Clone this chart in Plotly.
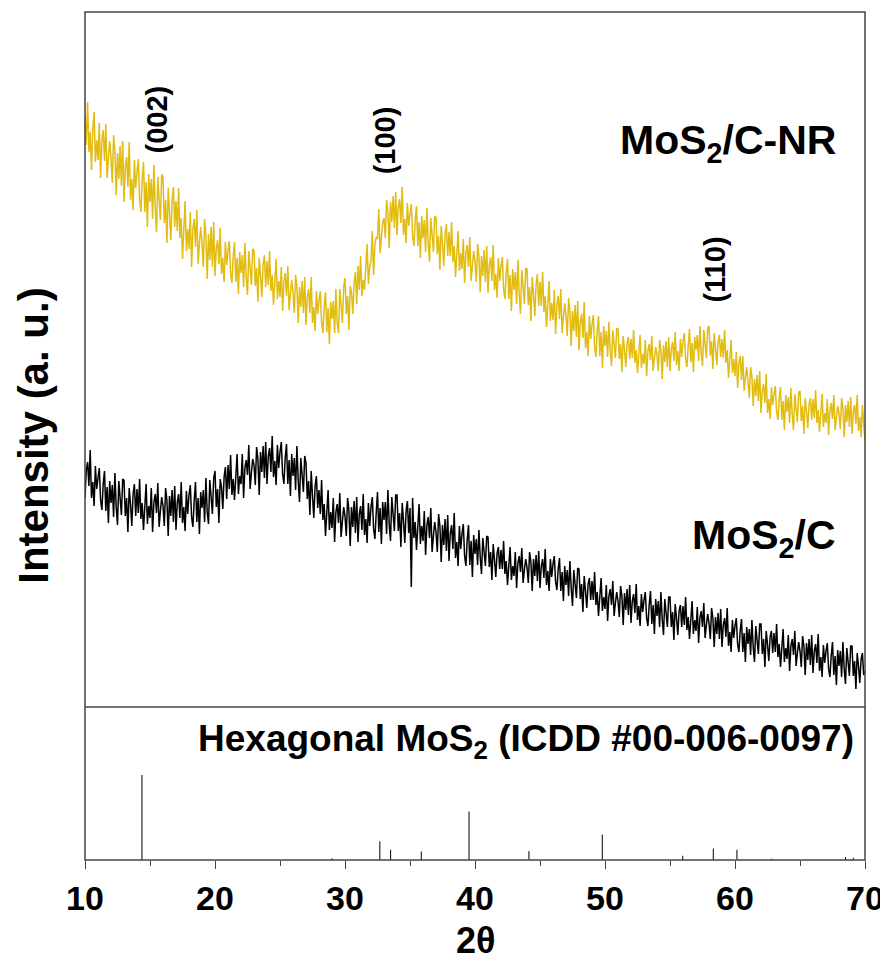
import plotly.graph_objects as go

# 2-theta sampling grid (degrees), 0.1 deg step
two_theta = [round(10 + 0.1 * i, 1) for i in range(601)]

# MoS2/C-NR intensity (a.u., stacked offset), one row per degree 10..69, then 70
mos2_c_nr = [
    592, 562, 605, 555, 575, 537, 577, 595, 545, 567,
    547, 584, 529, 567, 577, 546, 583, 529, 549, 566,
    549, 524, 572, 556, 512, 554, 528, 561, 521, 566,
    505, 540, 550, 520, 565, 507, 528, 497, 547, 519,
    535, 548, 508, 495, 528, 545, 495, 525, 480, 533,
    505, 528, 488, 542, 500, 475, 530, 511, 487, 533,
    529, 484, 507, 464, 519, 494, 467, 507, 520, 480,
    506, 476, 519, 469, 489, 448, 488, 506, 456, 478,
    458, 495, 440, 478, 488, 460, 497, 443, 463, 480,
    465, 440, 488, 472, 428, 473, 447, 480, 440, 485,
    431, 459, 467, 443, 479, 433, 449, 425, 465, 442,
    456, 466, 434, 424, 450, 465, 425, 449, 413, 455,
    434, 452, 420, 464, 430, 412, 456, 441, 422, 458,
    457, 421, 439, 405, 449, 432, 410, 442, 452, 420,
    446, 422, 456, 416, 432, 402, 434, 448, 408, 426,
    410, 440, 396, 426, 434, 411, 441, 397, 413, 427,
    414, 394, 432, 420, 384, 420, 400, 426, 394, 430,
    382, 410, 418, 394, 430, 384, 400, 376, 416, 393,
    406, 416, 384, 374, 400, 415, 375, 399, 363, 405,
    388, 406, 374, 418, 384, 374, 418, 403, 384, 420,
    429, 393, 411, 377, 421, 415, 393, 425, 435, 403,
    441, 417, 451, 411, 427, 417, 449, 463, 423, 441,
    446, 476, 432, 462, 470, 468, 498, 454, 470, 484,
    489, 469, 507, 495, 459, 505, 485, 511, 479, 515,
    472, 500, 508, 484, 520, 472, 488, 464, 504, 481,
    493, 503, 471, 461, 487, 501, 461, 485, 449, 491,
    469, 487, 455, 499, 465, 445, 489, 474, 455, 491,
    489, 453, 471, 437, 481, 463, 441, 473, 483, 451,
    475, 451, 485, 445, 461, 430, 462, 476, 436, 454,
    438, 468, 424, 454, 462, 440, 470, 426, 442, 456,
    445, 425, 463, 451, 415, 451, 431, 457, 425, 461,
    414, 442, 450, 426, 462, 417, 433, 409, 449, 426,
    440, 450, 418, 408, 434, 448, 408, 432, 396, 438,
    417, 435, 403, 447, 413, 393, 437, 422, 403, 439,
    438, 402, 420, 386, 430, 413, 391, 423, 433, 401,
    425, 401, 435, 395, 411, 380, 412, 426, 386, 404,
    387, 417, 373, 403, 411, 388, 418, 374, 390, 404,
    391, 371, 409, 397, 361, 396, 376, 402, 370, 406,
    357, 385, 393, 369, 405, 359, 375, 351, 391, 368,
    382, 392, 360, 350, 376, 391, 351, 375, 339, 381,
    361, 376, 350, 385, 358, 341, 377, 365, 349, 379,
    378, 348, 363, 335, 371, 357, 340, 364, 370, 348,
    368, 349, 377, 344, 357, 334, 360, 372, 339, 353,
    343, 367, 331, 356, 363, 347, 371, 336, 349, 360,
    352, 336, 367, 357, 328, 362, 345, 366, 340, 370,
    336, 358, 365, 346, 375, 342, 356, 336, 368, 350,
    366, 374, 348, 340, 361, 378, 345, 364, 335, 370,
    357, 372, 346, 381, 354, 341, 377, 365, 349, 379,
    381, 351, 366, 338, 374, 359, 342, 366, 372, 350,
    368, 349, 377, 344, 357, 329, 355, 367, 334, 348,
    331, 355, 319, 344, 351, 327, 351, 316, 329, 340,
    325, 309, 340, 330, 301, 328, 311, 332, 306, 336,
    294, 316, 323, 304, 333, 294, 308, 288, 320, 302,
    313, 321, 295, 287, 308, 320, 287, 306, 277, 312,
    295, 310, 284, 319, 292, 277, 313, 301, 285, 315,
    316, 286, 301, 273, 309, 296, 279, 303, 309, 287,
    308, 289, 317, 284, 297, 275, 301, 313, 280, 294,
    284, 308, 272, 297, 304, 288, 312, 277, 290, 301,
    294, 278, 309, 299, 270, 302, 285, 306, 280, 310,
    273, 295, 302, 283, 312, 276, 290, 270, 302, 284,
    265,
]

# MoS2/C intensity (a.u.), one row per degree 10..69, then 70
mos2_c = [
    209, 237, 245, 221, 257, 209, 225, 201, 241, 218,
    229, 239, 207, 197, 223, 236, 196, 220, 184, 226,
    204, 222, 190, 234, 200, 182, 226, 211, 192, 228,
    227, 191, 209, 175, 219, 203, 181, 213, 223, 191,
    218, 194, 228, 188, 204, 177, 209, 223, 183, 201,
    189, 219, 175, 205, 213, 194, 224, 180, 196, 210,
    201, 181, 219, 207, 171, 211, 191, 217, 185, 221,
    177, 205, 213, 189, 225, 184, 200, 176, 216, 193,
    212, 222, 190, 180, 206, 225, 185, 209, 173, 215,
    199, 217, 185, 229, 195, 183, 227, 212, 193, 229,
    236, 200, 218, 184, 228, 220, 198, 230, 240, 208,
    242, 218, 252, 212, 228, 207, 239, 253, 213, 231,
    223, 253, 209, 239, 247, 232, 262, 218, 234, 248,
    242, 222, 260, 248, 212, 255, 235, 261, 229, 265,
    223, 251, 259, 235, 271, 230, 246, 222, 262, 239,
    255, 265, 233, 223, 249, 263, 223, 247, 211, 253,
    231, 249, 217, 261, 227, 205, 249, 234, 215, 251,
    244, 208, 226, 192, 236, 211, 189, 221, 231, 199,
    217, 193, 227, 187, 203, 171, 203, 217, 177, 195,
    179, 209, 165, 195, 203, 184, 214, 170, 186, 200,
    191, 171, 209, 197, 161, 200, 180, 206, 174, 210,
    165, 193, 201, 177, 213, 172, 188, 164, 204, 181,
    200, 210, 178, 168, 194, 215, 175, 199, 163, 205,
    187, 205, 173, 217, 183, 166, 210, 195, 176, 212,
    212, 176, 194, 160, 204, 186, 164, 196, 206, 174,
    199, 120, 209, 169, 185, 157, 189, 203, 163, 181,
    166, 196, 152, 182, 190, 169, 199, 155, 171, 185,
    175, 155, 193, 181, 145, 182, 162, 188, 156, 192,
    146, 174, 182, 158, 194, 149, 165, 141, 181, 158,
    173, 183, 151, 141, 167, 182, 142, 166, 130, 172,
    153, 168, 142, 177, 150, 133, 169, 157, 141, 171,
    170, 140, 155, 127, 163, 147, 130, 154, 160, 138,
    157, 138, 166, 133, 146, 122, 148, 160, 127, 141,
    131, 155, 119, 144, 151, 135, 159, 124, 137, 148,
    140, 124, 155, 145, 116, 148, 131, 152, 126, 156,
    119, 141, 148, 129, 158, 122, 136, 116, 148, 130,
    143, 151, 125, 117, 138, 149, 116, 135, 106, 141,
    122, 137, 111, 146, 119, 101, 137, 125, 109, 139,
    138, 108, 123, 95, 131, 116, 99, 123, 129, 107,
    126, 107, 135, 102, 115, 91, 117, 129, 96, 110,
    98, 122, 86, 111, 118, 102, 126, 91, 104, 115,
    106, 90, 121, 111, 82, 114, 97, 118, 92, 122,
    84, 106, 113, 94, 123, 87, 101, 81, 113, 95,
    107, 115, 89, 81, 102, 116, 83, 102, 73, 108,
    91, 106, 80, 115, 88, 72, 108, 96, 80, 110,
    110, 80, 95, 67, 103, 89, 72, 96, 102, 80,
    101, 82, 110, 77, 90, 68, 94, 106, 73, 87,
    76, 100, 64, 89, 96, 80, 104, 69, 82, 93,
    84, 68, 99, 89, 60, 90, 73, 94, 68, 98,
    60, 82, 89, 70, 99, 61, 75, 55, 87, 69,
    81, 89, 63, 55, 76, 88, 55, 74, 45, 80,
    63, 78, 52, 87, 60, 45, 81, 69, 53, 83,
    83, 53, 68, 40, 76, 63, 46, 70, 76, 54,
    74, 55, 83, 50, 63, 40, 66, 78, 45, 59,
    48, 72, 36, 61, 68, 52, 76, 41, 54, 65,
    56, 40, 71, 61, 32, 64, 47, 68, 42, 72,
    34, 56, 63, 44, 73, 36, 50, 30, 62, 44,
    56, 64, 38, 30, 51, 65, 32, 51, 22, 57,
    41, 56, 30, 65, 38, 23, 59, 47, 31, 61,
    61, 31, 46, 18, 54, 41, 24, 48, 54, 32,
    36,
]

# Reference pattern: Hexagonal MoS2 (ICDD #00-006-0097)
ref_pos = [14.38, 29.0, 32.68, 33.51, 35.87, 39.54, 44.15, 49.79, 55.98, 58.33, 60.15, 62.8, 68.5, 69.1]
ref_int = [100, 2, 22, 12, 10, 57, 10.5, 30, 5, 13.5, 12, 1.5, 3.5, 2.5]

# Peak index labels
hkl_labels = ["(002)", "(100)", "(110)"]
hkl_x = [15.5, 33.1, 58.5]
hkl_y = [587, 567, 437]

x_ticks = [10, 20, 30, 40, 50, 60, 70]

FONT = "Liberation Sans, Arial, sans-serif"
YELLOW = "#E2BC12"
BORDER = "#444444"

n = min(len(two_theta), len(mos2_c_nr), len(mos2_c))

stick_x, stick_y = [], []
for p, h in zip(ref_pos, ref_int):
    stick_x += [p, p, None]
    stick_y += [0, h, None]

fig = go.Figure()
fig.add_trace(go.Scatter(x=two_theta[:n], y=mos2_c_nr[:n], mode="lines",
                         line=dict(color=YELLOW, width=1.5), xaxis="x", yaxis="y",
                         showlegend=False, name="MoS2/C-NR"))
fig.add_trace(go.Scatter(x=two_theta[:n], y=mos2_c[:n], mode="lines",
                         line=dict(color="black", width=1.5), xaxis="x", yaxis="y",
                         showlegend=False, name="MoS2/C"))
fig.add_trace(go.Scatter(x=stick_x, y=stick_y, mode="lines",
                         line=dict(color="black", width=1), xaxis="x", yaxis="y2",
                         showlegend=False, name="ICDD"))

split = 0.1804

annotations = []
for t, xx, yy in zip(hkl_labels, hkl_x, hkl_y):
    annotations.append(dict(x=xx, y=yy, xref="x", yref="y", text="<b>%s</b>" % t,
                            textangle=-90, showarrow=False,
                            font=dict(family=FONT, size=29, color="black")))
annotations += [
    dict(x=67.9, y=564, xref="x", yref="y", text="<b>MoS<sub>2</sub>/C-NR</b>",
         xanchor="right", yanchor="middle", showarrow=False,
         font=dict(family=FONT, size=41, color="black")),
    dict(x=67.9, y=169, xref="x", yref="y", text="<b>MoS<sub>2</sub>/C</b>",
         xanchor="right", yanchor="middle", showarrow=False,
         font=dict(family=FONT, size=41, color="black")),
    dict(x=69.3, y=140, xref="x", yref="y2",
         text="<b>Hexagonal MoS<sub>2</sub> (ICDD #00-006-0097)</b>",
         xanchor="right", yanchor="middle", showarrow=False,
         font=dict(family=FONT, size=37, color="black")),
    dict(x=-0.067, y=0.5, xref="paper", yref="paper", text="<b>Intensity (a. u.)</b>",
         textangle=-90, showarrow=False, xanchor="center", yanchor="middle",
         font=dict(family=FONT, size=42, color="black")),
    dict(x=0.5, y=-0.095, xref="paper", yref="paper", text="<b>2θ</b>",
         showarrow=False, xanchor="center", yanchor="middle",
         font=dict(family=FONT, size=36, color="black")),
]

# The page body adds an 8 px offset, so the figure is sized to fit the window.
fig.update_layout(
    width=880, height=957,
    margin=dict(l=77, r=23, t=4, b=105, autoexpand=False),
    paper_bgcolor="white", plot_bgcolor="white",
    xaxis=dict(range=[10, 70], anchor="y2", tickvals=x_ticks,
               ticktext=["<b>%d</b>" % v for v in x_ticks], automargin=False,
               ticks="outside", ticklen=8, tickwidth=1.3, tickcolor=BORDER,
               minor=dict(dtick=5, ticks="outside", ticklen=5, tickwidth=1.3, tickcolor=BORDER),
               showgrid=False, zeroline=False, showline=False,
               tickfont=dict(family=FONT, size=34, color="black")),
    yaxis=dict(domain=[split, 1], range=[0, 695], showticklabels=False, ticks="",
               automargin=False, showgrid=False, zeroline=False, showline=False),
    yaxis2=dict(domain=[0, split], range=[0, 180], showticklabels=False, ticks="",
                automargin=False, showgrid=False, zeroline=False, showline=False),
    annotations=annotations,
    shapes=[
        dict(type="rect", xref="paper", yref="paper", x0=0, x1=1, y0=0, y1=1,
             line=dict(color=BORDER, width=1.5)),
        dict(type="line", xref="paper", yref="paper", x0=0, x1=1, y0=split, y1=split,
             line=dict(color=BORDER, width=1.5)),
    ],
)

fig.write_html("out.html")
